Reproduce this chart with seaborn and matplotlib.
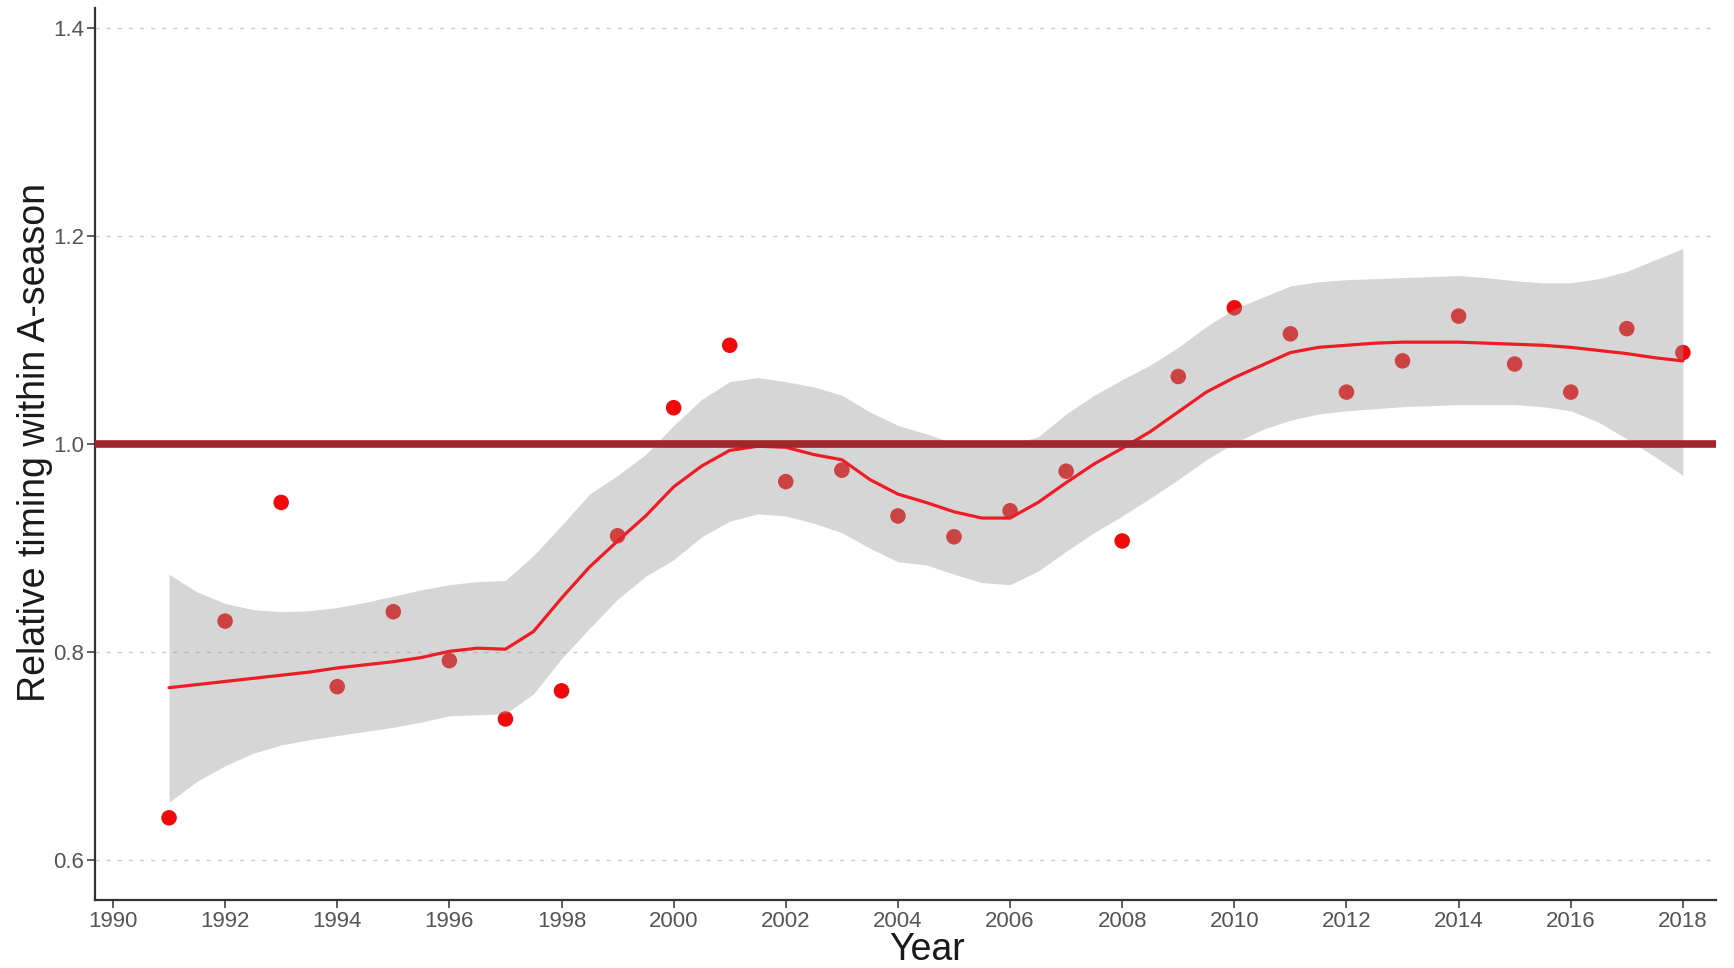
import numpy as np
import pandas as pd
import matplotlib
matplotlib.use("Agg")
import matplotlib.pyplot as plt
import seaborn as sns

# observed yearly values
years = list(range(1991, 2019))
timing = [0.641, 0.830, 0.944, 0.767, 0.839, 0.792, 0.736, 0.763, 0.912, 1.035,
          1.095, 0.964, 0.975, 0.931, 0.911, 0.936, 0.974, 0.907, 1.065, 1.131,
          1.106, 1.050, 1.080, 1.123, 1.077, 1.050, 1.111, 1.088]

# smoother fit and its confidence band, read at half-year steps
fit_x = [1991 + 0.5 * i for i in range(55)]
fit_y = [0.766, 0.769, 0.772, 0.775, 0.778, 0.781, 0.785, 0.788, 0.791, 0.795,
         0.801, 0.804, 0.803, 0.820, 0.852, 0.882, 0.907, 0.931, 0.959, 0.979,
         0.994, 0.998, 0.997, 0.990, 0.985, 0.966, 0.952, 0.944, 0.935, 0.929,
         0.929, 0.944, 0.963, 0.981, 0.996, 1.012, 1.031, 1.050, 1.064, 1.076,
         1.088, 1.093, 1.095, 1.097, 1.098, 1.098, 1.098, 1.097, 1.096, 1.095,
         1.093, 1.090, 1.087, 1.083, 1.080]
fit_hi = [0.875, 0.858, 0.847, 0.841, 0.839, 0.840, 0.843, 0.848, 0.854, 0.860,
          0.865, 0.868, 0.869, 0.893, 0.922, 0.952, 0.970, 0.990, 1.018, 1.043,
          1.060, 1.064, 1.060, 1.055, 1.047, 1.031, 1.018, 1.010, 1.001, 0.999,
          1.000, 1.007, 1.029, 1.047, 1.062, 1.076, 1.093, 1.113, 1.130, 1.141,
          1.152, 1.156, 1.158, 1.159, 1.160, 1.161, 1.162, 1.160, 1.157, 1.155,
          1.155, 1.159, 1.166, 1.177, 1.188]
fit_lo = [0.656, 0.676, 0.691, 0.703, 0.711, 0.716, 0.720, 0.724, 0.728, 0.733,
          0.739, 0.740, 0.741, 0.760, 0.794, 0.823, 0.851, 0.873, 0.889, 0.911,
          0.926, 0.933, 0.931, 0.924, 0.915, 0.900, 0.887, 0.884, 0.875, 0.867,
          0.865, 0.878, 0.897, 0.915, 0.931, 0.948, 0.966, 0.985, 1.001, 1.014,
          1.023, 1.029, 1.032, 1.034, 1.036, 1.037, 1.038, 1.038, 1.038, 1.036,
          1.032, 1.021, 1.005, 0.988, 0.970]

x_ticks = list(range(1990, 2019, 2))
y_ticks = [0.6, 0.8, 1.0, 1.2, 1.4]
reference_level = 1.0

sns.set_theme(style="white")
plt.rcParams['font.family'] = ['Liberation Sans', 'DejaVu Sans']

points = pd.DataFrame({"Year": years, "timing": timing})
fit = pd.DataFrame({"Year": fit_x, "fit": fit_y, "lo": fit_lo, "hi": fit_hi})

fig = plt.figure(figsize=(17.34, 9.68), dpi=100)
ax = fig.add_axes([0.0548, 0.0702, 0.9348, 0.9215])

sns.scatterplot(data=points, x="Year", y="timing", ax=ax, s=125,
                color="#F00A0A", edgecolor="none", linewidth=0, zorder=2)
ax.fill_between(fit["Year"], fit["lo"], fit["hi"], color="#999999",
                alpha=0.4, linewidth=0, zorder=3)
sns.lineplot(data=fit, x="Year", y="fit", ax=ax, color="#EE1C25",
             linewidth=2.3, zorder=4)
ax.axhline(reference_level, color="#A1262C", linewidth=5.5, zorder=5)

ax.set_xlim(1989.68, 2018.59)
ax.set_ylim(0.562, 1.419)
ax.set_xticks(x_ticks)
ax.set_yticks(y_ticks)
ax.set_yticklabels([f"{v:.1f}" for v in y_ticks])
ax.yaxis.grid(True, linestyle=(0, (3, 5)), color="#cccccc", linewidth=1.0)
ax.xaxis.grid(False)
ax.set_axisbelow(True)

for side in ["top", "right"]:
    ax.spines[side].set_visible(False)
for side in ["left", "bottom"]:
    ax.spines[side].set_color("#333333")
    ax.spines[side].set_linewidth(1.6)

ax.tick_params(axis="both", which="major", length=6, width=1.1, color="#333333",
               labelsize=16, labelcolor="#555555", pad=2, left=True, bottom=True)

ax.set_xlabel("Year", fontsize=27, color="#1a1a1a", labelpad=0)
ax.xaxis.label.set_x(0.513)
ax.set_ylabel("Relative timing within A-season", fontsize=27, color="#1a1a1a",
              labelpad=0)
ax.yaxis.label.set_y(0.513)

fig.savefig("out.png", dpi=100)
